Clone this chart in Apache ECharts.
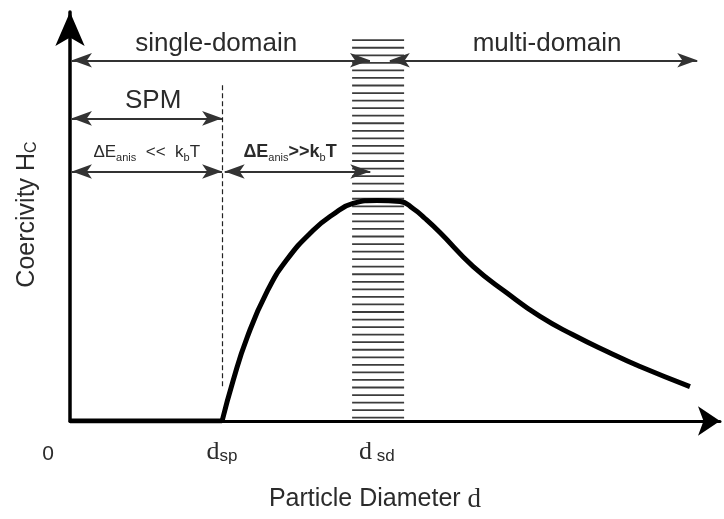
<!DOCTYPE html>
<html><head><meta charset="utf-8">
<script src="https://cdn.jsdelivr.net/npm/echarts@6/dist/echarts.min.js"></script>
<style>html,body{margin:0;padding:0;background:#fff}#c{width:724px;height:519px}</style>
</head><body><div id="c"></div>
<script>
// ---- data (arbitrary schematic units) ----
const flatX = [0, 23.4];
const flatY = [0, 0];
const curveX = [23.4, 25.08, 27.23, 30.31, 33.38, 37.38, 40.46, 43.54, 47.23, 50.77, 52.77, 54.62, 56.92, 62.0, 67.23, 72.31, 77.38, 82.62, 87.69, 95.38];
const curveY = [0, 9.8, 20.34, 31.62, 39.46, 46.57, 50.49, 53.19, 53.92, 53.68, 51.96, 49.51, 46.08, 37.82, 31.3, 25.56, 21.08, 16.99, 13.31, 8.41];
const dSp = 23.4;
const dSd = 47.2;
const tickValues = [0, dSp, dSd];
const tickMain = ['0', 'd', 'd'];
const tickSub = ['', 'sp', 'sd'];
const bandX = [43.4, 51.4];
const bandY = [0.5, 93.1];
const dashY = [7.8, 82.1];
// double-headed arrows: [from, to, y]
const arrowFrom = [0.3, 49.2, 0.3, 0.3, 23.8];
const arrowTo = [46.15, 96.5, 23.4, 23.4, 46.2];
const arrowY = [88.2, 88.2, 74.0, 61.0, 61.0];
// region labels
const labelText = ['single-domain', 'multi-domain', 'SPM',
  '{m|ΔE}{s|anis}{m|  <<  k}{s|b}{m|T}', '{b|ΔE}{bs|anis}{b|>>k}{bs|b}{b|T}'];
const labelX = [22.5, 73.4, 12.8, 11.8, 33.85];
const labelY = [92.2, 92.2, 78.4, 65.4, 65.4];
const xName = '{t|Particle Diameter }{d|d}';
const yName = '{t|Coercivity H}{s|C}';

// ---- chart ----
const X_MAX = 100, Y_MAX = 100;
const GRID = {left: 70, right: 4, top: 12, bottom: 98};
const FONT = 'Liberation Sans, Arial, sans-serif';
const TXT = '#2b2b2b';
const bigLabel = {fontSize: 26, color: TXT, fontFamily: FONT};
const smallRich = {
  m: {fontSize: 17, color: TXT, fontFamily: FONT, lineHeight: 20, verticalAlign: 'top'},
  s: {fontSize: 11, color: TXT, fontFamily: FONT, lineHeight: 11, verticalAlign: 'bottom', padding: [10, 0, 0, 0]},
  b: {fontSize: 18, fontWeight: 'bold', color: TXT, fontFamily: FONT, lineHeight: 20, verticalAlign: 'top'},
  bs: {fontSize: 11, color: TXT, fontFamily: FONT, lineHeight: 11, verticalAlign: 'bottom', padding: [10, 0, 0, 0]}
};

const arrowData = arrowFrom.map((f, i) => [
  {coord: [f, arrowY[i]]},
  {coord: [arrowTo[i], arrowY[i]]}
]);
const dashData = [[{coord: [dSp, dashY[1]]}, {coord: [dSp, dashY[0]]}]];

const labelData = labelText.map((t, i) => ({
  coord: [labelX[i], labelY[i]],
  label: i < 3 ? Object.assign({formatter: t}, bigLabel) : {formatter: t, rich: smallRich}
}));

const HATCH_GAP = 7.55;
const option = {
  animation: false,
  backgroundColor: '#fff',
  grid: GRID,
  xAxis: {
    type: 'value', min: 0, max: X_MAX,
    splitLine: {show: false}, axisTick: {show: false},
    axisLine: {lineStyle: {color: '#000', width: 3}, symbol: ['none', 'arrow'], symbolSize: [22, 22]},
    axisLabel: {
      customValues: tickValues, margin: 18,
      formatter: (v) => {
        const i = tickValues.indexOf(v);
        if (i === 0) return '{z|0}';
        return '{d|' + tickMain[i] + '}{s|' + (i === 2 ? ' ' : '') + tickSub[i] + '}';
      },
      rich: {
        z: {fontSize: 21, color: TXT, fontFamily: FONT, padding: [0, 44, 0, 0], lineHeight: 26, verticalAlign: 'bottom'},
        d: {fontSize: 26, color: TXT, fontFamily: 'Liberation Serif, serif', lineHeight: 26, verticalAlign: 'bottom'},
        s: {fontSize: 17, color: TXT, fontFamily: FONT, lineHeight: 22, verticalAlign: 'bottom'}
      }
    },
    name: xName, nameLocation: 'middle', nameGap: 65,
    nameTextStyle: {
      padding: [0, 40, 0, 0],
      rich: {
        t: {fontSize: 25, color: TXT, fontFamily: FONT},
        d: {fontSize: 27, color: TXT, fontFamily: 'Liberation Serif, serif'}
      }
    }
  },
  yAxis: {
    type: 'value', min: 0, max: Y_MAX,
    splitLine: {show: false}, axisTick: {show: false}, axisLabel: {show: false},
    axisLine: {lineStyle: {color: '#000', width: 3.5}, symbol: ['none', 'arrow'], symbolSize: [22, 34]},
    name: yName, nameLocation: 'middle', nameGap: 30,
    nameTextStyle: {
      padding: [0, 0, 0, 4],
      rich: {
        t: {fontSize: 25, color: TXT, fontFamily: FONT, lineHeight: 28, verticalAlign: 'bottom'},
        s: {fontSize: 16, color: TXT, fontFamily: FONT, lineHeight: 20, verticalAlign: 'bottom'}
      }
    }
  },
  series: [
    {
      type: 'custom', z: 1, silent: true,
      data: [[bandX[0], bandX[1], bandY[0], bandY[1]]],
      renderItem: (params, api) => {
        const tl = api.coord([api.value(0), api.value(3)]);
        const br = api.coord([api.value(1), api.value(2)]);
        const children = [];
        for (let y = tl[1]; y <= br[1] + 0.1; y += HATCH_GAP) {
          children.push({type: 'line', shape: {x1: tl[0], y1: y, x2: br[0], y2: y},
            style: {stroke: '#3c3c3c', lineWidth: 1.8}});
        }
        return {type: 'group', children};
      }
    },
    {
      type: 'line', z: 5, symbol: 'none',
      data: flatX.map((x, i) => [x, flatY[i]]),
      lineStyle: {color: '#000', width: 5}
    },
    {
      type: 'line', z: 5, symbol: 'none', smooth: 0.5,
      data: curveX.map((x, i) => [x, curveY[i]]),
      lineStyle: {color: '#000', width: 5},
      markLine: {
        silent: true, animation: false,
        symbol: ['arrow', 'arrow'],
        symbolSize: [11, 20],
        lineStyle: {color: '#333', width: 2.2, type: 'solid'},
        label: {show: false},
        data: arrowData
      },
      markPoint: {
        silent: true, symbol: 'circle', symbolSize: 1,
        itemStyle: {color: 'rgba(0,0,0,0)'},
        data: labelData
      }
    },
    {
      type: 'line', z: 3, symbol: 'none', data: [],
      markLine: {
        silent: true, symbol: ['none', 'none'],
        lineStyle: {color: '#222', width: 1.2, type: [5, 3]},
        label: {show: false},
        data: dashData
      }
    }
  ]
};
const chart = echarts.init(document.getElementById('c'));
chart.setOption(option);
</script></body></html>
